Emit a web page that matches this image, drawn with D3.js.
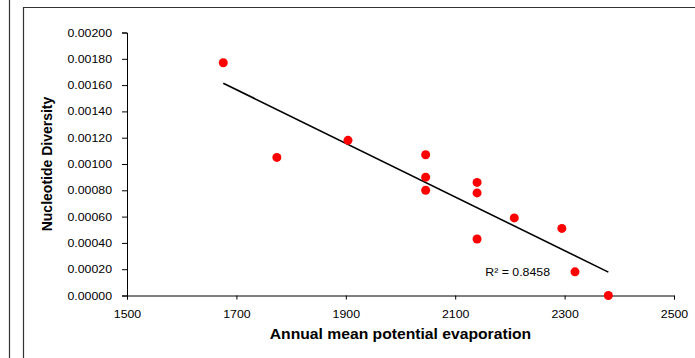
<!DOCTYPE html>
<html>
<head>
<meta charset="utf-8">
<script src="https://cdn.jsdelivr.net/npm/d3@7"></script>
<style>
  body { margin: 0; background: #fff; }
  svg { display: block; font-family: "Liberation Sans", Arial, sans-serif; }
</style>
</head>
<body>
<div class="graph"></div>
<script>
// datos
const evaporation = [1676, 1774, 1904, 2046, 2046, 2046, 2140, 2140, 2140, 2208, 2295, 2319, 2380]
const diversity = [0.00177, 0.00105, 0.00118, 0.00107, 0.00090, 0.00080, 0.00086, 0.00078, 0.00043, 0.00059, 0.00051, 0.00018, 0.00000]
const xTicks = [1500, 1700, 1900, 2100, 2300, 2500]
const yTicks = [0, 0.0002, 0.0004, 0.0006, 0.0008, 0.001, 0.0012, 0.0014, 0.0016, 0.0018, 0.002]
const r2Label = "R² = 0.8458"

const width = 695, height = 358
const stretch = 1.12  // el original esta un poco estirado en horizontal

const svg = d3.select('.graph')
  .append('svg')
  .attr('width', width)
  .attr('height', height)

// marcos
svg.append('line').attr('x1', 9.5).attr('x2', 9.5).attr('y1', 0).attr('y2', height)
  .attr('stroke', '#333').attr('stroke-width', 1.2)
svg.append('path').attr('d', `M23.5,${height} V7.5 H${width}`)
  .attr('fill', 'none').attr('stroke', '#333').attr('stroke-width', 1.2)

const xScale = d3.scaleLinear().domain([1500, 2500]).range([127, 674])
const yScale = d3.scaleLinear().domain([0, 0.002]).range([295.5, 32.5])

// ejes
const yAxis = d3.axisLeft(yScale).tickValues(yTicks).tickFormat(d3.format('.5f'))
  .tickSize(5).tickPadding(10)
svg.append('g').attr('transform', `translate(${xScale(1500)},0)`).call(yAxis)

const xAxis = d3.axisBottom(xScale).tickValues(xTicks).tickFormat(d3.format('d'))
  .tickSize(4).tickPadding(10.5)
svg.append('g').attr('transform', `translate(0,${yScale(0)})`).call(xAxis)

svg.selectAll('.domain, .tick line').attr('stroke', '#000')
svg.selectAll('.tick text').style('font-size', '11px').attr('fill', '#000')

// titulos
svg.append('text').attr('class', 'h')
  .attr('x', (xScale(1500) + xScale(2500)) / 2).attr('y', 338.5)
  .attr('text-anchor', 'middle')
  .style('font-size', '14px').style('font-weight', 'bold')
  .text('Annual mean potential evaporation')

svg.append('text')
  .attr('transform', `translate(52,164) rotate(-90)`)
  .attr('text-anchor', 'middle')
  .style('font-size', '14px').style('font-weight', 'bold')
  .text('Nucleotide Diversity')

// linea de tendencia (minimos cuadrados)
const n = evaporation.length
const mx = d3.mean(evaporation), my = d3.mean(diversity)
let sxy = 0, sxx = 0
evaporation.forEach((x, i) => { sxy += (x - mx) * (diversity[i] - my); sxx += (x - mx) * (x - mx) })
const slope = sxy / sxx, intercept = my - slope * mx
const x0 = d3.min(evaporation), x1 = d3.max(evaporation)

svg.append('line')
  .attr('x1', xScale(x0)).attr('y1', yScale(intercept + slope * x0))
  .attr('x2', xScale(x1)).attr('y2', yScale(intercept + slope * x1))
  .attr('stroke', '#000').attr('stroke-width', 1.6)

svg.append('text').attr('class', 'h')
  .attr('x', xScale(2155)).attr('y', yScale(0.00015))
  .style('font-size', '11px')
  .text(r2Label)

// puntos
svg.selectAll('circle.dot')
  .data(evaporation.map((x, i) => [x, diversity[i]]))
  .enter()
  .append('circle')
  .attr('class', 'dot')
  .attr('cx', d => xScale(d[0]))
  .attr('cy', d => yScale(d[1]))
  .attr('r', 4.5)
  .attr('fill', '#ff0000')

// estirar textos horizontales
svg.selectAll('.tick text, text.h').each(function () {
  const len = this.getComputedTextLength()
  d3.select(this).attr('textLength', len * stretch).attr('lengthAdjust', 'spacingAndGlyphs')
})
</script>
</body>
</html>
